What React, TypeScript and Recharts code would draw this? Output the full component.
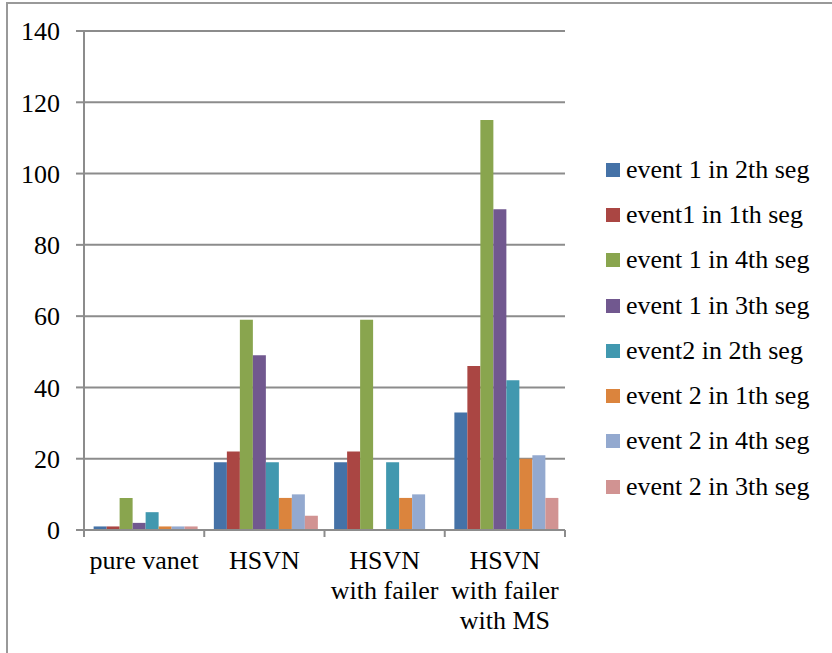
import { BarChart, Bar, XAxis, YAxis, CartesianGrid, Legend } from "recharts";

// category labels, one entry per line of the wrapped label
const categoryLines = [
  ["pure vanet"],
  ["HSVN"],
  ["HSVN", "with failer"],
  ["HSVN", "with failer", "with MS"],
];
const categories = categoryLines.map((l) => l.join(" "));

const seriesNames = [
  "event 1 in 2th seg",
  "event1 in 1th seg",
  "event 1 in 4th seg",
  "event 1 in 3th seg",
  "event2 in 2th seg",
  "event 2 in 1th seg",
  "event 2 in 4th seg",
  "event 2 in 3th seg",
];

const event1Seg2 = [1, 19, 19, 33];
const event1Seg1 = [1, 22, 22, 46];
const event1Seg4 = [9, 59, 59, 115];
const event1Seg3 = [2, 49, 0, 90];
const event2Seg2 = [5, 19, 19, 42];
const event2Seg1 = [1, 9, 9, 20];
const event2Seg4 = [1, 10, 10, 21];
const event2Seg3 = [1, 4, 0, 9];

const yTicks = [0, 20, 40, 60, 80, 100, 120, 140];

const seriesValues = [
  event1Seg2,
  event1Seg1,
  event1Seg4,
  event1Seg3,
  event2Seg2,
  event2Seg1,
  event2Seg4,
  event2Seg3,
];

const colors = [
  "#4572A7",
  "#AA4643",
  "#89A54E",
  "#71588F",
  "#4198AF",
  "#DB843D",
  "#93A9CF",
  "#D19392",
];

const data = categories.map((name, i) => {
  const row: Record<string, string | number> = { name };
  seriesNames.forEach((s, k) => {
    row["s" + k] = seriesValues[k][i];
  });
  return row;
});

const FONT = "'Liberation Serif', 'Times New Roman', serif";
const AXIS = "#8c8c8c";
const PLOT_LEFT = 84;
const PLOT_RIGHT = 565;
const BAND = (PLOT_RIGHT - PLOT_LEFT) / categories.length;

const CategoryTick = (props: any) => {
  const { x, y, index } = props;
  const lines = categoryLines[index] || [];
  return (
    <g>
      <line x1={x - BAND / 2} y1={y} x2={x - BAND / 2} y2={y + 7} stroke={AXIS} strokeWidth={2} />
      {index === categories.length - 1 && (
        <line x1={x + BAND / 2} y1={y} x2={x + BAND / 2} y2={y + 7} stroke={AXIS} strokeWidth={2} />
      )}
      <text x={x} y={y + 39} textAnchor="middle" fill="#000" fontSize={26} fontFamily={FONT}>
        {lines.map((l, i) => (
          <tspan key={i} x={x} dy={i === 0 ? 0 : 30}>
            {l}
          </tspan>
        ))}
      </text>
    </g>
  );
};

const LegendContent = () => (
  <div style={{ fontFamily: FONT, fontSize: 26, color: "#000" }}>
    {seriesNames.map((name, i) => (
      <div
        key={name}
        style={{ height: 45.3, display: "flex", alignItems: "center", whiteSpace: "nowrap" }}
      >
        <span
          style={{
            display: "inline-block",
            width: 14,
            height: 14,
            background: colors[i],
            marginRight: 6,
          }}
        />
        <span>{name}</span>
      </div>
    ))}
  </div>
);

export default function App() {
  return (
    <div style={{ position: "absolute", left: 0, top: 0, width: 832, height: 653, background: "#fff", overflow: "hidden" }}>
      <div
        style={{
          position: "absolute",
          left: 6,
          top: 2,
          width: 840,
          height: 700,
          borderLeft: "2px solid #999",
          borderTop: "2px solid #999",
        }}
      />
      <div style={{ position: "absolute", left: 0, top: 0 }}>
        <BarChart
          width={832}
          height={653}
          data={data}
          margin={{ top: 31, right: 832 - PLOT_RIGHT, bottom: 0, left: 0 }}
          barCategoryGap="8%"
          barGap={0}
        >
          <CartesianGrid vertical={false} stroke={AXIS} strokeWidth={2} />
          <XAxis
            dataKey="name"
            height={123}
            tickSize={0}
            tickMargin={0}
            tickLine={false}
            interval={0}
            stroke={AXIS}
            strokeWidth={2}
            tick={<CategoryTick />}
          />
          <YAxis
            width={PLOT_LEFT}
            domain={[0, 140]}
            ticks={yTicks}
            interval={0}
            stroke={AXIS}
            strokeWidth={2}
            tickSize={8}
            tickMargin={16}
            tick={{ fill: "#000", fontSize: 26, fontFamily: FONT }}
          />
          <Legend
            layout="vertical"
            align="center"
            verticalAlign="middle"
            content={<LegendContent />}
            wrapperStyle={{ left: 606, top: 147, width: 226 }}
          />
          {seriesNames.map((name, k) => (
            <Bar
              key={name}
              dataKey={"s" + k}
              name={name}
              fill={colors[k]}
              isAnimationActive={false}
            />
          ))}
        </BarChart>
      </div>
    </div>
  );
}
